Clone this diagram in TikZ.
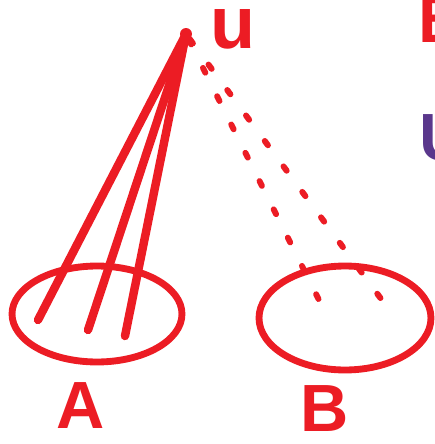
\documentclass[tikz,border=0pt]{standalone}
\usepackage{fontspec}
\setmainfont{Liberation Sans}
\usetikzlibrary{positioning,shapes.geometric}
\definecolor{penred}{RGB}{236,28,36}
\definecolor{penpurple}{RGB}{90,55,140}

\begin{document}
\begin{tikzpicture}[x=0.02cm, y=-0.02cm,
  blob/.style={draw=penred, ellipse, line width=3.9pt, inner sep=0pt},
  solidedge/.style={draw=penred, line width=4.8pt, line cap=round},
  dotedge/.style={draw=penred, line width=3.4pt, line cap=round, dash pattern=on 3pt off 15pt},
  lbl/.style={text=penred, font=\fontsize{38}{40}\selectfont\bfseries, inner sep=1pt}
]
  \useasboundingbox[fill=white] (0,0) rectangle (434,444);

  % the sets
  \node[blob, minimum width=3.4cm, minimum height=1.92cm] (setA) at (97,314) {};
  \node[blob, minimum width=3.44cm, minimum height=2.08cm] (setB) at (345,318) {};
  \node[lbl, below=0.3cm of setA, xshift=-0.32cm] (labA) {A};
  \node[lbl, below=0.2cm of setB, xshift=-0.4cm] (labB) {B};

  % the vertex
  \node[circle, fill=penred, minimum size=0.24cm, inner sep=0pt] (u) at (186,34) {};
  \node[lbl, font=\fontsize{42}{42}\selectfont\bfseries, text height=0.62cm, text depth=0pt,
        right=0.32cm of u, yshift=0.02cm] (labu) {u};

  % ends inside the sets
  \coordinate (a1) at (38,320);
  \coordinate (a2) at (88,330);
  \coordinate (a3) at (125,336);
  \coordinate (b1) at (328,318);
  \coordinate (b2) at (390,311);

  \draw[solidedge] (u.center) -- (a1);
  \draw[solidedge] (u.center) -- (a2);
  \draw[solidedge] (u.center) -- (a3);
  \draw[dotedge] (u) -- (b1);
  \draw[dotedge] (u) -- (b2);

  % cut-off letters on the right edge
  \node[lbl, anchor=west] (edge1) at (416,20) {B};
  \node[lbl, text=penpurple, anchor=west] (edge2) at (417,138) {U};
\end{tikzpicture}
\end{document}
